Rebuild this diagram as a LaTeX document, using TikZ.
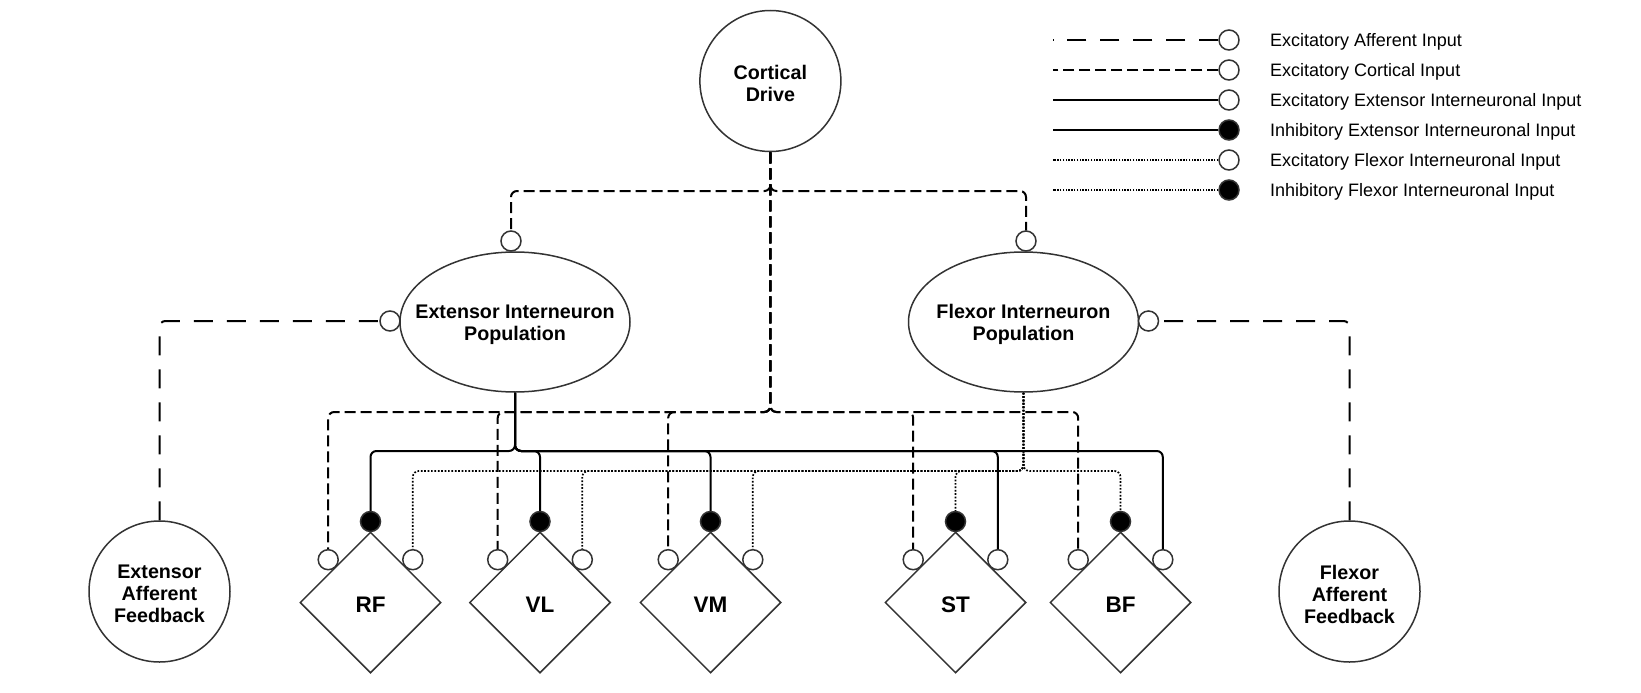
\documentclass[tikz,border=0pt]{standalone}
\usepackage{fontspec}
\setmainfont{Liberation Sans}
\usetikzlibrary{shapes.geometric}
\definecolor{nodegray}{HTML}{333333}
\tikzset{
  conn/.style={line width=2pt, black, rounded corners=6pt},
  cort/.style={conn, dash pattern=on 11pt off 5pt},
  aff/.style={conn, dash pattern=on 19pt off 14pt},
  exl/.style={conn},
  flxl/.style={conn, line width=1.7pt, dash pattern=on 1.7pt off 1.7pt},
  legline/.style={line width=1.6pt},
  bignode/.style={circle, draw=nodegray, line width=1.5pt, fill=white, minimum size=141pt, inner sep=0pt},
  ellnode/.style={ellipse, draw=nodegray, line width=1.5pt, fill=white, minimum width=230pt, minimum height=140pt, inner sep=0pt},
  txt/.style={inner sep=0pt, align=center, yshift=-2.5pt, font=\bfseries\fontsize{19.7pt}{22pt}\selectfont},
  mtxt/.style={inner sep=0pt, yshift=-2.5pt, font=\bfseries\fontsize{22.5pt}{26pt}\selectfont},
  muscle/.style={diamond, shape aspect=1, draw=nodegray, line width=1.5pt, fill=white, minimum width=141pt, minimum height=141pt, inner sep=0pt},
  exc/.style={circle, draw=nodegray, line width=1.5pt, fill=white, minimum size=20pt, inner sep=0pt},
  inh/.style={exc, fill=black},
  legtext/.style={anchor=base west, inner sep=0pt, font=\fontsize{18pt}{21pt}\selectfont},
}
\begin{document}
\begin{tikzpicture}[x=1pt,y=-1pt]
\useasboundingbox (0,0) rectangle (1641,693);
\fill[white] (0,0) rectangle (1641,693);

% main nodes
\node[bignode, label={[txt]center:{Cortical\\Drive}}] (cd) at (770.4,81) {};
\node[ellnode, label={[txt]center:{Extensor Interneuron\\Population}}] (ext) at (515,322) {};
\node[ellnode, label={[txt]center:{Flexor Interneuron\\Population}}] (flx) at (1023.5,322) {};
\node[bignode, label={[txt]center:{Extensor\\Afferent\\Feedback}}] (eaf) at (159.5,591.5) {};
\node[bignode, label={[txt]center:{Flexor\\Afferent\\Feedback}}] (faf) at (1349.5,591.5) {};

\node[muscle, label={[mtxt]center:RF}] (rf) at (370.5,602.5) {};
\node[muscle, label={[mtxt]center:VL}] (vl) at (540,602.5) {};
\node[muscle, label={[mtxt]center:VM}] (vm) at (710.5,602.5) {};
\node[muscle, label={[mtxt]center:ST}] (st) at (955.5,602.5) {};
\node[muscle, label={[mtxt]center:BF}] (bf) at (1120.5,602.5) {};

% synapse circles
\node[exc] (cE) at (511,241) {};
\node[exc] (cF) at (1026,241) {};
\node[exc] (aE) at (390,321) {};
\node[exc] (aF) at (1148.5,321) {};

\node[inh] (rfI) at (370.5,521.5) {};
\node[exc] (rfL) at (328.2,559.7) {};
\node[exc] (rfR) at (412.8,559.7) {};
\node[inh] (vlI) at (540,521.5) {};
\node[exc] (vlL) at (497.7,559.7) {};
\node[exc] (vlR) at (582.3,559.7) {};
\node[inh] (vmI) at (710.5,521.5) {};
\node[exc] (vmL) at (668.2,559.7) {};
\node[exc] (vmR) at (752.8,559.7) {};
\node[inh] (stI) at (955.5,521.5) {};
\node[exc] (stL) at (913.2,559.7) {};
\node[exc] (stR) at (997.8,559.7) {};
\node[inh] (bfI) at (1120.5,521.5) {};
\node[exc] (bfL) at (1078.2,559.7) {};
\node[exc] (bfR) at (1162.8,559.7) {};

% junctions
\coordinate (ctop) at (770.4,191);
\coordinate (cj) at (770.4,412);
\coordinate (ej) at (515,451);
\coordinate (fj) at (1023.5,471);

% cortical input
\draw[cort] (cd.south) -- (ctop) -| (cE.north);
\draw[cort] (cd.south) -- (ctop) -| (cF.north);
\foreach \t in {rfL,vlL,vmL,stL,bfL}
  \draw[cort] (cd.south) -- (cj) -| (\t.north);

% extensor interneuron input
\foreach \t in {rfI,vlI,vmI,stR,bfR}
  \draw[exl] (ext.south) -- (ej) -| (\t.north);

% flexor interneuron input
\foreach \t in {rfR,vlR,vmR,stI,bfI}
  \draw[flxl] (flx.south) -- (fj) -| (\t.north);

% afferent feedback
\draw[aff] (eaf.north) |- (aE.west);
\draw[aff] (faf.north) |- (aF.east);

% legend
\node[exc] (l1c) at (1229,40) {};
\node[exc] (l2c) at (1229,70) {};
\node[exc] (l3c) at (1229,100) {};
\node[inh] (l4c) at (1229,130) {};
\node[exc] (l5c) at (1229,160) {};
\node[inh] (l6c) at (1229,190) {};
\coordinate (l1s) at (1053,40);
\coordinate (l2s) at (1053,70);
\coordinate (l3s) at (1053,100);
\coordinate (l4s) at (1053,130);
\coordinate (l5s) at (1053,160);
\coordinate (l6s) at (1053,190);
\draw[aff, legline] (l1c.west) -- (l1s);
\draw[cort, legline] (l2c.west) -- (l2s);
\draw[exl, legline] (l3c.west) -- (l3s);
\draw[exl, legline] (l4c.west) -- (l4s);
\draw[flxl, line width=1.4pt, dash pattern=on 1.4pt off 1.4pt] (l5c.west) -- (l5s);
\draw[flxl, line width=1.4pt, dash pattern=on 1.4pt off 1.4pt] (l6c.west) -- (l6s);
\node[legtext] (l1t) at (1270,46.5) {Excitatory Afferent Input};
\node[legtext] (l2t) at (1270,76.5) {Excitatory Cortical Input};
\node[legtext] (l3t) at (1270,106.5) {Excitatory Extensor Interneuronal Input};
\node[legtext] (l4t) at (1270,136.5) {Inhibitory Extensor Interneuronal Input};
\node[legtext] (l5t) at (1270,166.5) {Excitatory Flexor Interneuronal Input};
\node[legtext] (l6t) at (1270,196.5) {Inhibitory Flexor Interneuronal Input};
\end{tikzpicture}
\end{document}
